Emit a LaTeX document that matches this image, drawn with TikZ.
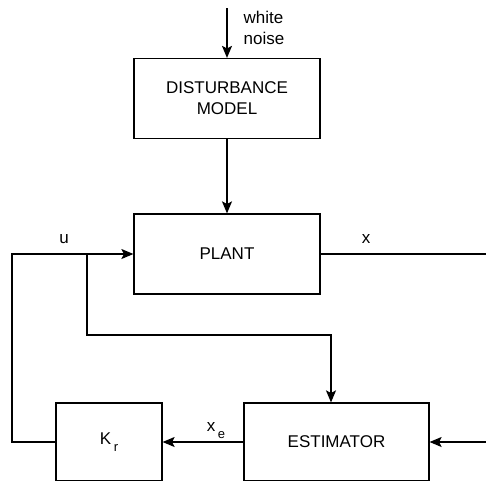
\documentclass[tikz,border=0pt]{standalone}
\usepackage{fontspec}
\setmainfont{Liberation Sans}
\usetikzlibrary{arrows.meta, positioning}
\tikzset{
    block/.style={draw, minimum width=186pt, minimum height=80pt, align=center, inner sep=2pt},
    sig/.style={anchor=base, inner sep=0pt},
}
% lowered small index, as in K r
\newcommand{\lowsub}[1]{\hspace{2.5pt}\raisebox{-7pt}{\fontsize{13}{13}\selectfont #1}}

\begin{document}
\begin{tikzpicture}[x=1pt, y=-1pt, >={Stealth[length=12pt, width=10pt, inset=2.5pt]}, line width=1.2pt,
    font=\fontsize{17}{21}\selectfont]
    \useasboundingbox (0,0) rectangle (486,480);
    \clip (0,0) rectangle (486,480);

    \node[block] (dist) at (227,98.5) {DISTURBANCE\\MODEL};
    \node[block] (plant) at (227,254) {PLANT};
    \node[block, minimum width=185pt, minimum height=78pt] (est) at (336.5,442) {ESTIMATOR};
    \node[block, minimum width=106pt, minimum height=78pt] (kr) at (109,442) {K\lowsub{r}};

    \coordinate (noise) at (227,8);
    \coordinate (uleft) at (12,254);
    \coordinate (ubr) at (87,254);
    \coordinate (ebr) at (331,335);
    \coordinate (xout) at (486,254);
    \coordinate (estin) at (486,442);

    % white noise into the disturbance model
    \draw[->] (noise) -- (dist.north);
    \node[anchor=north west, inner sep=0pt, align=left] (wn) at (243,11) {white\\noise};

    \draw[->] (dist) -- (plant);

    % control loop
    \draw[->] (kr.west) -| (uleft) -- (plant.west);
    \draw[->] (ubr) |- (ebr) -- (ebr |- est.north);
    \draw (plant.east) -- (xout);
    \draw[->] (est.west) -- (kr.east);
    \draw[->] (estin) -- (est.east);

    \node[sig] (ulab) at (64,243) {u};
    \node[sig] (xlab) at (366,243) {x};
    \node[sig] (xelab) at (216,431) {x\lowsub{e}};

\end{tikzpicture}
\end{document}
